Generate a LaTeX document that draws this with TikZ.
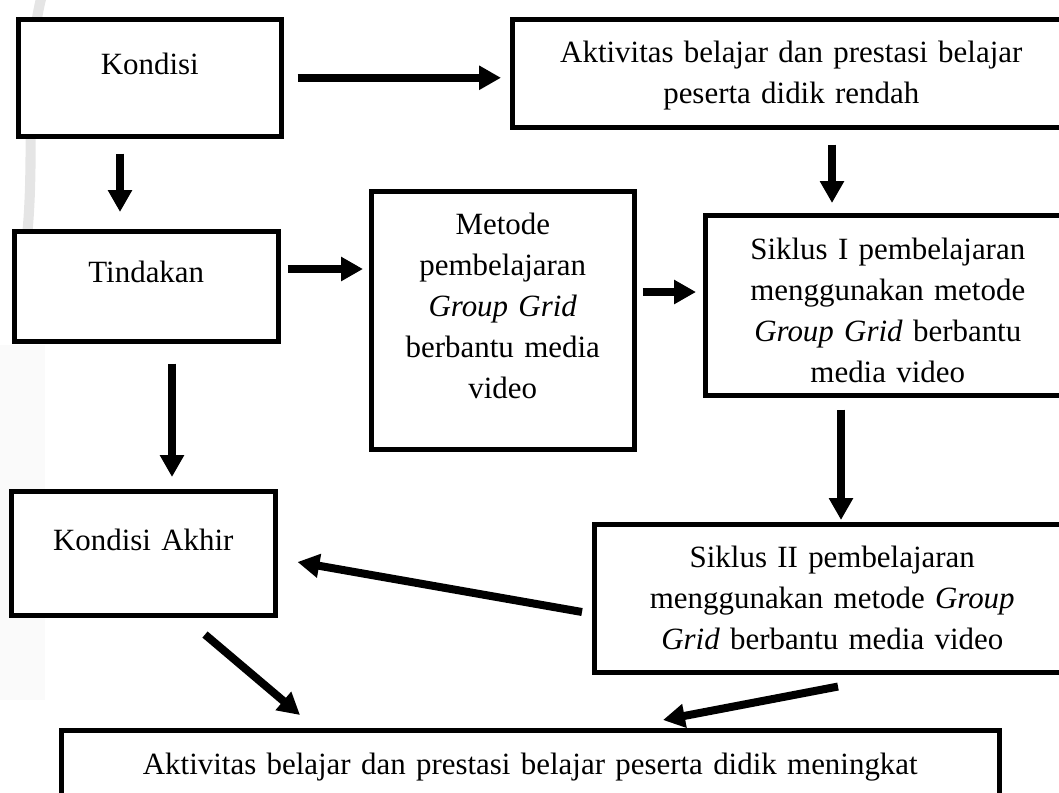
\documentclass[tikz,border=0pt]{standalone}
\usepackage{fontspec}
\setmainfont{Liberation Serif}
\usepackage{tikz}
\usetikzlibrary{positioning}
\usetikzlibrary{calc}
\usetikzlibrary{arrows.meta}
\newlength{\px}
\setlength{\px}{0.375pt}
\tikzset{>=latex}

\begin{document}
\begin{tikzpicture}[x=0.375pt, y=-0.375pt, font=\fontsize{11.6pt}{15.4pt}\selectfont,
    box/.style={draw, fill=white, line width=1.7pt, inner sep=0pt, align=center, anchor=north west},
    arr/.style={-{Triangle[width=8.6pt, length=8.2pt]}, line width=3pt}]

        % Frame
        \useasboundingbox (0,0) rectangle (1059,792);
        \clip (0,0) rectangle (1059,792);

        % Grey marks on the left
        \fill[gray!4] (0,345) rectangle (45,700);
        \draw[gray!20, line width=3.8pt] (42,-5) .. controls (22,70) and (38,170) .. (24,260);

        % Boxes
        \node[box, text width=263\px, text height=55\px, text depth=62\px] (kondisi) at (16,17) {Kondisi};
        \node[box, text width=558\px, text height=43\px, text depth=65\px] (aktivitasAwal) at (510,17)
            {Aktivitas belajar dan prestasi belajar\\peserta didik rendah};
        \node[box, text width=264\px, text height=51\px, text depth=59\px] (tindakan) at (12,229) {Tindakan};
        \node[box, text width=263\px, text height=43\px, text depth=215\px] (metode) at (369,189)
            {Metode\\pembelajaran\\\textit{Group Grid}\\berbantu media\\video};
        \node[box, text width=365\px, text height=44\px, text depth=136\px] (siklusSatu) at (703,213)
            {Siklus I pembelajaran\\menggunakan metode\\\textit{Group Grid} berbantu\\media video};
        \node[box, text width=264\px, text height=59\px, text depth=65\px] (kondisiAkhir) at (9,489) {Kondisi Akhir};
        \node[box, text width=476\px, text height=43\px, text depth=105\px] (siklusDua) at (592,522)
            {Siklus II pembelajaran\\menggunakan metode \textit{Group}\\\textit{Grid} berbantu media video};
        \node[box, text width=938\px, text height=44\px, text depth=100\px] (aktivitasAkhir) at (59,728)
            {Aktivitas belajar dan prestasi belajar peserta didik meningkat};

        % Arrows
        \draw[arr] ($(kondisi.east)+(14,0)$) -- ($(kondisi.east -| aktivitasAwal.west)+(-9,0)$);
        \draw[arr] ($(kondisi.south west)+(104,15)$) -- ($(tindakan.north west)+(108,-17)$);
        \draw[arr] ($(aktivitasAwal.south west)+(322,15)$) -- ($(siklusSatu.north west)+(129,-10)$);
        \draw[arr] ($(tindakan.north east)+(7,40)$) -- ($(metode.north west)+(-6,80)$);
        \draw[arr] ($(metode.north east)+(6,103)$) -- ($(siklusSatu.north west)+(-7,79)$);
        \draw[arr] ($(tindakan.south west)+(160,20)$) -- ($(kondisiAkhir.north west)+(163,-12)$);
        \draw[arr] ($(siklusSatu.south west)+(138,12)$) -- ($(siklusDua.north west)+(249,-2)$);
        \draw[arr] ($(siklusDua.north west)+(-10,90)$) -- ($(kondisiAkhir.north east)+(20,73)$);
        \draw[arr] ($(kondisiAkhir.south west)+(196,17)$) -- ($(aktivitasAkhir.north west)+(241,-13)$);
        \draw[arr] ($(siklusDua.south west)+(246,12)$) -- ($(aktivitasAkhir.north west)+(604,-8)$);

\end{tikzpicture}
\end{document}
